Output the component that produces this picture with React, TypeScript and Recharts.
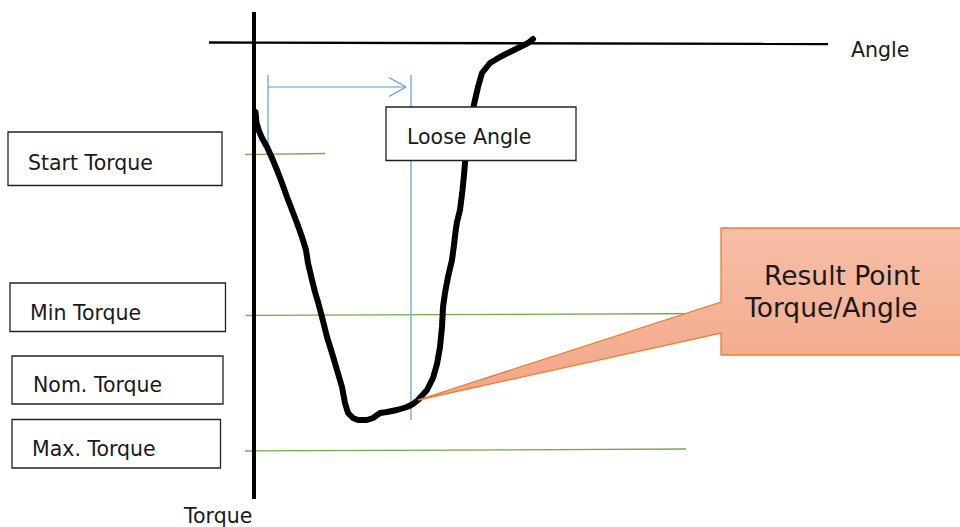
import React from "react";
import {
  ComposedChart,
  Line,
  Area,
  XAxis,
  YAxis,
  ReferenceLine,
  ReferenceArea,
  ReferenceDot,
} from "recharts";

// Torque/angle trace (diagram units: angle → right, torque → down)
const curveAngle = [
  255.5, 256.5, 259, 262, 267, 272, 277, 282, 287, 292, 297, 302, 306, 308, 312, 315, 318, 322, 327, 332,
  337, 342, 345, 348, 353, 358, 367, 373, 380, 387, 397, 407, 413, 418, 427, 433, 437, 440, 442, 443, 445,
  448, 452, 454, 455.5, 457, 460, 462.5, 464, 465, 468, 471, 475, 478, 482, 490, 500, 510, 520, 528, 533,
];
const curveTorque = [
  112, 123, 131, 138, 147, 158, 170, 183, 197, 210, 223, 237, 250, 263, 280, 292, 302, 317, 337, 353,
  370, 387, 403, 413, 418, 420, 420, 418, 413, 412, 410, 407, 404, 400, 390, 378, 364, 347, 327, 307, 293,
  277, 260, 245, 232, 222, 210, 190, 175, 163, 140, 118, 100, 87, 73, 63, 57, 52, 47, 43, 39,
];

// Threshold lines (green)
const thresholdNames = ["Start Torque", "Min Torque", "Max. Torque"];
const thresholdFrom = [
  { a: 245, t: 154.5 },
  { a: 246, t: 315.5 },
  { a: 245, t: 451 },
];
const thresholdTo = [
  { a: 325, t: 153.5 },
  { a: 720, t: 313.5 },
  { a: 686, t: 449 },
];

// Callout (Result Point) outline as a range area
const calloutAngle = [418, 721, 721, 960];
const calloutTop = [400, 302, 228, 228];
const calloutBottom = [400, 333, 355, 355];

// Label boxes
const boxLabels = ["Start Torque", "Min Torque", "Nom. Torque", "Max. Torque"];
const boxRect = [
  { x1: 8, x2: 222, y1: 132, y2: 185.5, tx: 28, ty: 170 },
  { x1: 10, x2: 225.5, y1: 283, y2: 331.5, tx: 30, ty: 320 },
  { x1: 12, x2: 223, y1: 356, y2: 404, tx: 33, ty: 392 },
  { x1: 12, x2: 220.5, y1: 419.5, y2: 468, tx: 32, ty: 456 },
];

const curveData = curveAngle.map((a, i) => ({ a, t: curveTorque[i] }));
const calloutData = calloutAngle.map((a, i) => ({ a, r: [calloutTop[i], calloutBottom[i]] }));

const FONT = "'DejaVu Sans', Verdana, sans-serif";
const GREEN = "#70AD47";
const BLUE = "#5B9BD5";
const ORANGE = "#ED7D31";

const textShape =
  (text: string, size: number, color = "#1a1a1a") =>
  (props: any) =>
    (
      <text x={props.cx} y={props.cy} fontSize={size} fontFamily={FONT} fill={color}>
        {text}
      </text>
    );

export default function App() {
  return (
    <div style={{ position: "absolute", left: 0, top: 0, width: 960, height: 527, background: "#fff" }}>
      <ComposedChart width={960} height={527} margin={{ top: 0, right: 0, bottom: 0, left: 0 }}>
        <defs>
          <linearGradient id="calloutFill" x1="0" y1="0" x2="0" y2="1">
            <stop offset="0%" stopColor="#F7BFA6" />
            <stop offset="100%" stopColor="#F2A688" />
          </linearGradient>
        </defs>
        <XAxis type="number" dataKey="a" domain={[0, 960]} hide allowDataOverflow />
        <YAxis type="number" domain={[0, 527]} reversed hide allowDataOverflow />

        {/* green threshold lines */}
        {thresholdNames.map((n, i) => (
          <ReferenceLine
            key={n}
            segment={[
              { x: thresholdFrom[i].a, y: thresholdFrom[i].t },
              { x: thresholdTo[i].a, y: thresholdTo[i].t },
            ]}
            stroke={GREEN}
            strokeWidth={1.3}
            ifOverflow="visible"
            zIndex={350}
          />
        ))}

        {/* blue loose-angle dimension */}
        <ReferenceLine segment={[{ x: 268, y: 75 }, { x: 268, y: 150 }]} stroke={BLUE} strokeWidth={1.2} ifOverflow="visible" zIndex={350} />
        <ReferenceLine segment={[{ x: 411, y: 75 }, { x: 411, y: 420 }]} stroke={BLUE} strokeWidth={1.2} ifOverflow="visible" zIndex={350} />
        <ReferenceLine segment={[{ x: 268, y: 87 }, { x: 406, y: 87 }]} stroke={BLUE} strokeWidth={1.2} ifOverflow="visible" zIndex={350} />
        <ReferenceLine segment={[{ x: 389, y: 77.5 }, { x: 406, y: 87 }]} stroke={BLUE} strokeWidth={1.2} ifOverflow="visible" zIndex={350} />
        <ReferenceLine segment={[{ x: 389, y: 96.5 }, { x: 406, y: 87 }]} stroke={BLUE} strokeWidth={1.2} ifOverflow="visible" zIndex={350} />

        {/* axes */}
        <ReferenceLine segment={[{ x: 254, y: 12 }, { x: 254, y: 499 }]} stroke="#000" strokeWidth={4} ifOverflow="visible" zIndex={420} />
        <ReferenceLine segment={[{ x: 209, y: 42.5 }, { x: 828, y: 44 }]} stroke="#000" strokeWidth={2.4} ifOverflow="visible" zIndex={420} />

        {/* torque/angle trace */}
        <Line
          data={curveData}
          dataKey="t"
          type="linear"
          stroke="#000"
          strokeWidth={6}
          strokeLinejoin="round"
          strokeLinecap="round"
          dot={false}
          activeDot={false}
          isAnimationActive={false}
          zIndex={400}
        />

        {/* Loose Angle box */}
        <ReferenceArea x1={386} x2={576} y1={107} y2={160.5} fill="#fff" fillOpacity={1} stroke="#222" strokeWidth={1.3} ifOverflow="visible" zIndex={700} />

        {/* label boxes */}
        {boxLabels.map((n, i) => (
          <ReferenceArea
            key={n}
            x1={boxRect[i].x1}
            x2={boxRect[i].x2}
            y1={boxRect[i].y1}
            y2={boxRect[i].y2}
            fill="#fff"
            fillOpacity={1}
            stroke="#222"
            strokeWidth={1.3}
            ifOverflow="visible"
            zIndex={700}
          />
        ))}

        {/* callout */}
        <Area
          data={calloutData}
          dataKey="r"
          type="linear"
          fill="url(#calloutFill)"
          fillOpacity={1}
          stroke={ORANGE}
          strokeWidth={1.3}
          dot={false}
          activeDot={false}
          isAnimationActive={false}
          zIndex={750}
        />

        {/* texts */}
        {boxLabels.map((n, i) => (
          <ReferenceDot key={"t" + n} x={boxRect[i].tx} y={boxRect[i].ty} r={0} ifOverflow="visible" shape={textShape(n, 20.5)} zIndex={800} />
        ))}
        <ReferenceDot x={407} y={144} r={0} ifOverflow="visible" shape={textShape("Loose Angle", 20.5)} zIndex={800} />
        <ReferenceDot x={851} y={57} r={0} ifOverflow="visible" shape={textShape("Angle", 20.5)} zIndex={800} />
        <ReferenceDot x={184} y={523} r={0} ifOverflow="visible" shape={textShape("Torque", 20.5)} zIndex={800} />
        <ReferenceDot x={764} y={285} r={0} ifOverflow="visible" shape={textShape("Result Point", 26.5)} zIndex={800} />
        <ReferenceDot x={745} y={317} r={0} ifOverflow="visible" shape={textShape("Torque/Angle", 26.5)} zIndex={800} />
      </ComposedChart>
    </div>
  );
}
